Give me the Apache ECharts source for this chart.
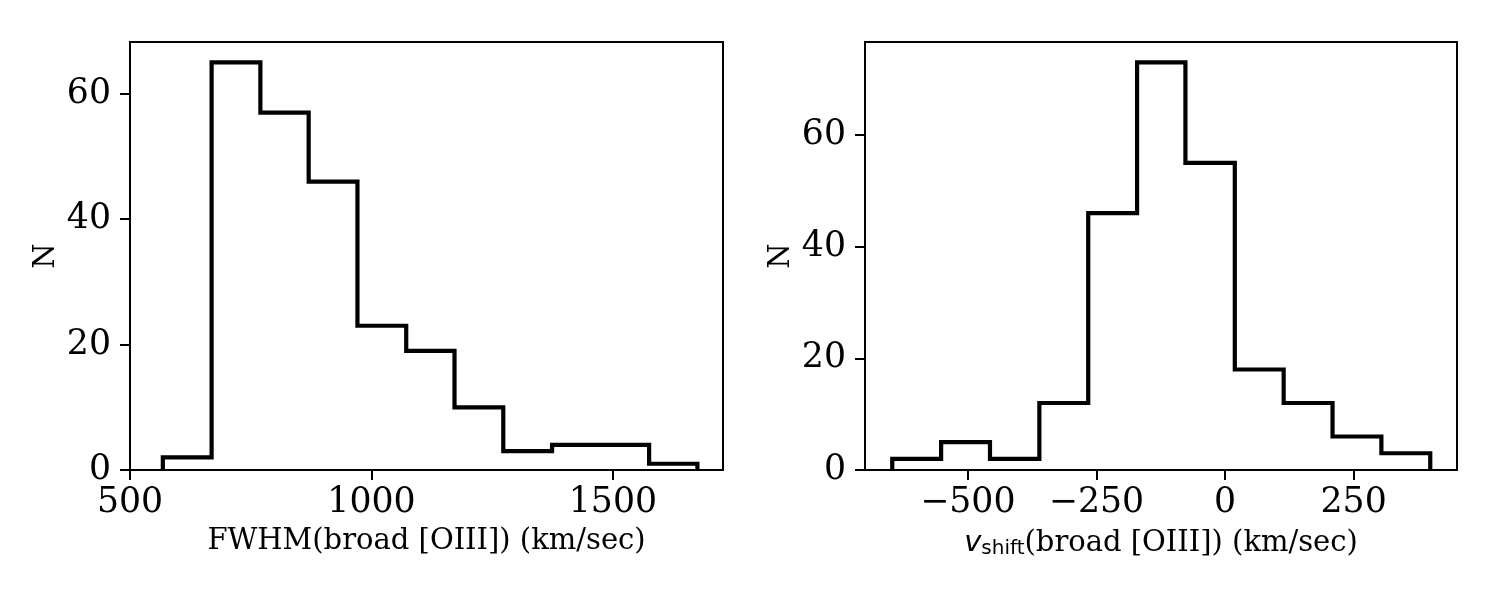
<!DOCTYPE html>
<html>
<head>
<meta charset="utf-8">
<script src="https://cdn.jsdelivr.net/npm/echarts@6/dist/echarts.min.js"></script>
<style>
  html, body { margin: 0; padding: 0; background: #fff; }
  #chart { width: 1500px; height: 600px; }
</style>
</head>
<body>
<div id="chart"></div>
<script>
// histogram bin edges and counts
var fwhmEdges = [568, 669, 770, 870, 971, 1072, 1172, 1273, 1374, 1474, 1575, 1675];
var fwhmCounts = [2, 65, 57, 46, 23, 19, 10, 3, 4, 4, 1];
var vshiftEdges = [-647, -552, -457, -361, -266, -171, -77, 19, 114, 209, 304, 399];
var vshiftCounts = [2, 5, 2, 12, 46, 73, 55, 18, 12, 6, 3];

var fwhmTicks = [500, 1000, 1500];
var vshiftTicks = [-500, -250, 0, 250];
var countTicks = [0, 20, 40, 60];

var serif = "DejaVu Serif";

// outline of a step histogram: up at first edge, across each bin, down at last edge
function stepOutline(edges, counts) {
    var pts = [[edges[0], 0]];
    for (var i = 0; i < counts.length; i++) {
        pts.push([edges[i], counts[i]]);
        pts.push([edges[i + 1], counts[i]]);
    }
    pts.push([edges[edges.length - 1], 0]);
    return pts;
}

function fmt(v) {
    return String(v).replace("-", "\u2212");
}

function xAxisOpt(idx, min, max, ticks, name) {
    return {
        type: "value", gridIndex: idx, min: min, max: max,
        name: name, nameLocation: "middle", nameGap: 57,
        nameTextStyle: {
            fontFamily: serif, fontSize: 29, color: "#000",
            rich: {
                v: { fontFamily: "DejaVu Sans", fontStyle: "italic", fontSize: 29, color: "#000" },
                s: { fontFamily: "DejaVu Sans", fontSize: 20, color: "#000", padding: [12, 0, 0, 0] },
                t: { fontFamily: serif, fontSize: 29, color: "#000" }
            }
        },
        axisLine: { show: false, onZero: false },
        splitLine: { show: false },
        axisTick: { show: true, length: 10, customValues: ticks, lineStyle: { color: "#000", width: 2 } },
        axisLabel: { customValues: ticks, margin: 15, fontFamily: serif, fontSize: 34.7, color: "#000", formatter: fmt }
    };
}

function yAxisOpt(idx, max) {
    return {
        type: "value", gridIndex: idx, min: 0, max: max,
        name: "N", nameLocation: "middle", nameGap: 69, nameRotate: 90,
        nameTextStyle: { fontFamily: serif, fontSize: 29, color: "#000" },
        axisLine: { show: false, onZero: false },
        splitLine: { show: false },
        axisTick: { show: true, length: 10, customValues: countTicks, lineStyle: { color: "#000", width: 2 } },
        axisLabel: { customValues: countTicks, margin: 19, fontFamily: serif, fontSize: 34.7, color: "#000", formatter: fmt }
    };
}

var histLine = { color: "#000", width: 4.2, join: "miter", cap: "butt" };

var option = {
    animation: false,
    backgroundColor: "#fff",
    grid: [
        { left: 130, top: 42, width: 593, height: 428, show: true, borderColor: "#000", borderWidth: 2, backgroundColor: "transparent" },
        { left: 865, top: 42, width: 592, height: 428, show: true, borderColor: "#000", borderWidth: 2, backgroundColor: "transparent" }
    ],
    xAxis: [
        xAxisOpt(0, 500, 1728, fwhmTicks, "FWHM(broad [OIII]) (km/sec)"),
        xAxisOpt(1, -700, 451, vshiftTicks, "{v|v}{s|shift}{t|(broad [OIII]) (km/sec)}")
    ],
    yAxis: [
        yAxisOpt(0, 68.25),
        yAxisOpt(1, 76.65)
    ],
    series: [
        {
            type: "line", xAxisIndex: 0, yAxisIndex: 0, showSymbol: false,
            lineStyle: histLine,
            data: stepOutline(fwhmEdges, fwhmCounts)
        },
        {
            type: "line", xAxisIndex: 1, yAxisIndex: 1, showSymbol: false,
            lineStyle: histLine,
            data: stepOutline(vshiftEdges, vshiftCounts)
        }
    ]
};

var chart = echarts.init(document.getElementById("chart"));
chart.setOption(option);
</script>
</body>
</html>
